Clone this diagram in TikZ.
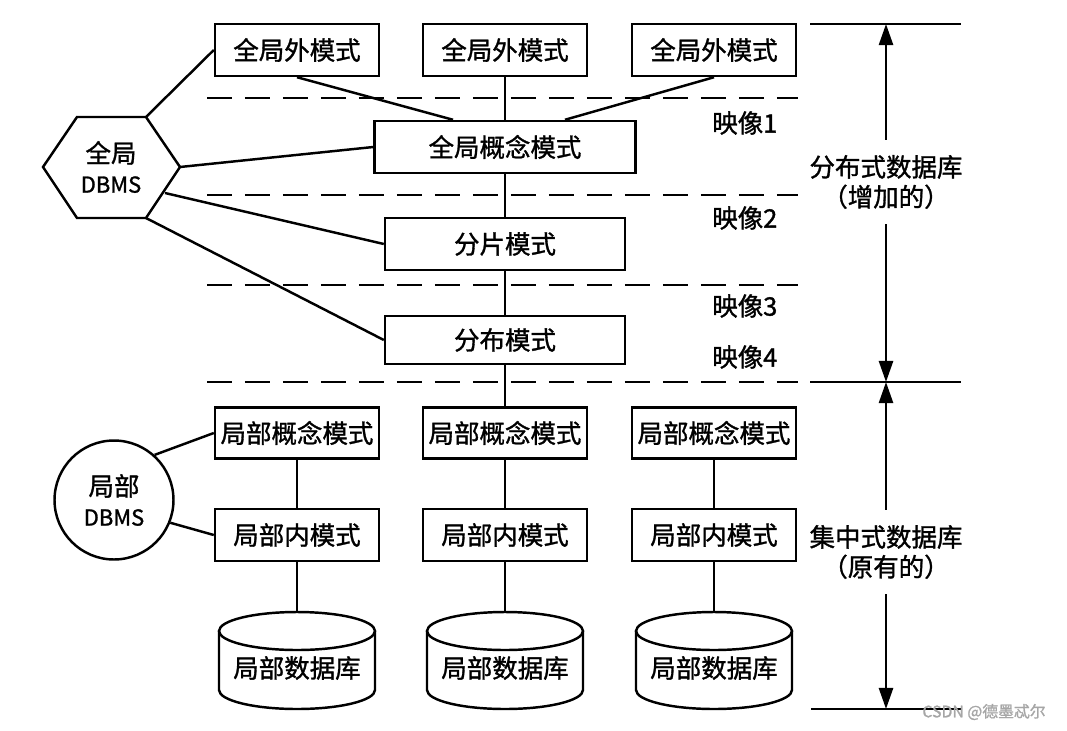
\documentclass[tikz,border=0pt]{standalone}
\usepackage{fontspec}
\setmainfont{Noto Sans CJK SC}[FakeBold=1.2]
\usetikzlibrary{arrows.meta}

\begin{document}
\begin{tikzpicture}[x=0.02cm,y=-0.02cm,line width=1.4pt,
    every node/.style={font=\fontsize{14.5pt}{17pt}\selectfont,inner sep=0pt},
    schema/.style={draw,rectangle,minimum width=3.28cm,minimum height=1.04cm},
    mapline/.style={dash pattern=on 0.5cm off 0.26cm},
    arr/.style={-{Triangle[length=12pt,width=8pt]}},
    dbmstext/.style={align=center,font=\fontsize{14.5pt}{17pt}\selectfont},
    side/.style={align=center,inner sep=8pt}]

  \useasboundingbox (0,0) rectangle (1067,730);

  \foreach \y in {98,195,285,382}{
    \draw[mapline] (207,\y) -- (798,\y);
  }

  \foreach \cx/\n in {297/1,505/2,714/3}{
    \node[schema] (gext\n) at (\cx,50) {全局外模式};
  }
  \node[schema,minimum width=5.22cm] (gcon) at (505,147) {全局概念模式};
  \node[schema,minimum width=4.8cm] (frag) at (505,244) {分片模式};
  \node[schema,minimum width=4.8cm,minimum height=0.96cm] (dist) at (505,340) {分布模式};

  \draw (gext1.south) -- ([xshift=-1.04cm]gcon.north);
  \draw (gext2) -- (gcon);
  \draw (gext3.south) -- ([xshift=1.2cm]gcon.north);
  \draw (gcon) -- (frag);
  \draw (frag) -- (dist);

  % global DBMS
  \coordinate (hW) at (43,167);
  \coordinate (hNW) at (77,117);
  \coordinate (hNE) at (146,117);
  \coordinate (hE) at (180,167);
  \coordinate (hSE) at (146,218);
  \coordinate (hSW) at (77,218);
  \coordinate (hEs) at (165,193);
  \draw (hW) -- (hNW) -- (hNE) -- (hE) -- (hSE) -- (hSW) -- cycle;
  \node[dbmstext] (gdbms) at (111,167) {全局\\{\fontsize{12.5pt}{14pt}\selectfont DBMS}};
  \draw (hNE) -- (gext1.west);
  \draw (hE) -- (gcon.west);
  \draw (hEs) -- (frag.west);
  \draw (hSE) -- (dist.west);

  \foreach \y/\k in {123/1,218/2,306/3,357/4}{
    \node[anchor=west] (map\k) at (711,\y) {映像\k};
  }

  % local sites
  \foreach \cx/\n in {297/1,505/2,714/3}{
    \node[schema,minimum height=1.02cm] (lcon\n) at (\cx,433) {局部概念模式};
    \node[schema] (lin\n) at (\cx,535) {局部内模式};
    \coordinate (ltop\n) at (\cx,612);
    \draw (\cx,631) ellipse [x radius=78,y radius=19];
    \draw (\cx-78,631) -- (\cx-78,690) arc [start angle=180,end angle=0,x radius=78,y radius=19] -- (\cx+78,631);
    \node (ldb\n) at (\cx,668) {局部数据库};
    \draw (lcon\n) -- (lin\n);
    \draw (lin\n) -- (ltop\n);
  }
  \draw (dist) -- (lcon2);

  \node[draw,circle,minimum size=2.38cm,dbmstext] (ldbms) at (114,500) {局部\\{\fontsize{12.5pt}{14pt}\selectfont DBMS}};
  \draw (ldbms.48) -- (lcon1.west);
  \draw (ldbms.-22) -- (lin1.west);

  % right scale
  \draw (810,24) -- (961,24);
  \draw (810,382) -- (961,382);
  \draw (811,709) -- (961,709);
  \coordinate (sTop) at (886,24);
  \coordinate (sMid) at (886,382);
  \coordinate (sBot) at (886,709);
  \node[side] (ddb) at (886,182) {分布式数据库\\（增加的）};
  \node[side] (cdb) at (886,552) {集中式数据库\\（原有的）};
  \draw[arr] (ddb.north) -- (sTop);
  \draw[arr] (ddb.south) -- (sMid);
  \draw[arr] (cdb.north) -- (sMid);
  \draw[arr] (cdb.south) -- (sBot);

  \node[text=gray!70,font=\fontsize{9pt}{10pt}\selectfont] (mark) at (984,712) {CSDN @德墨忒尔};
\end{tikzpicture}
\end{document}
